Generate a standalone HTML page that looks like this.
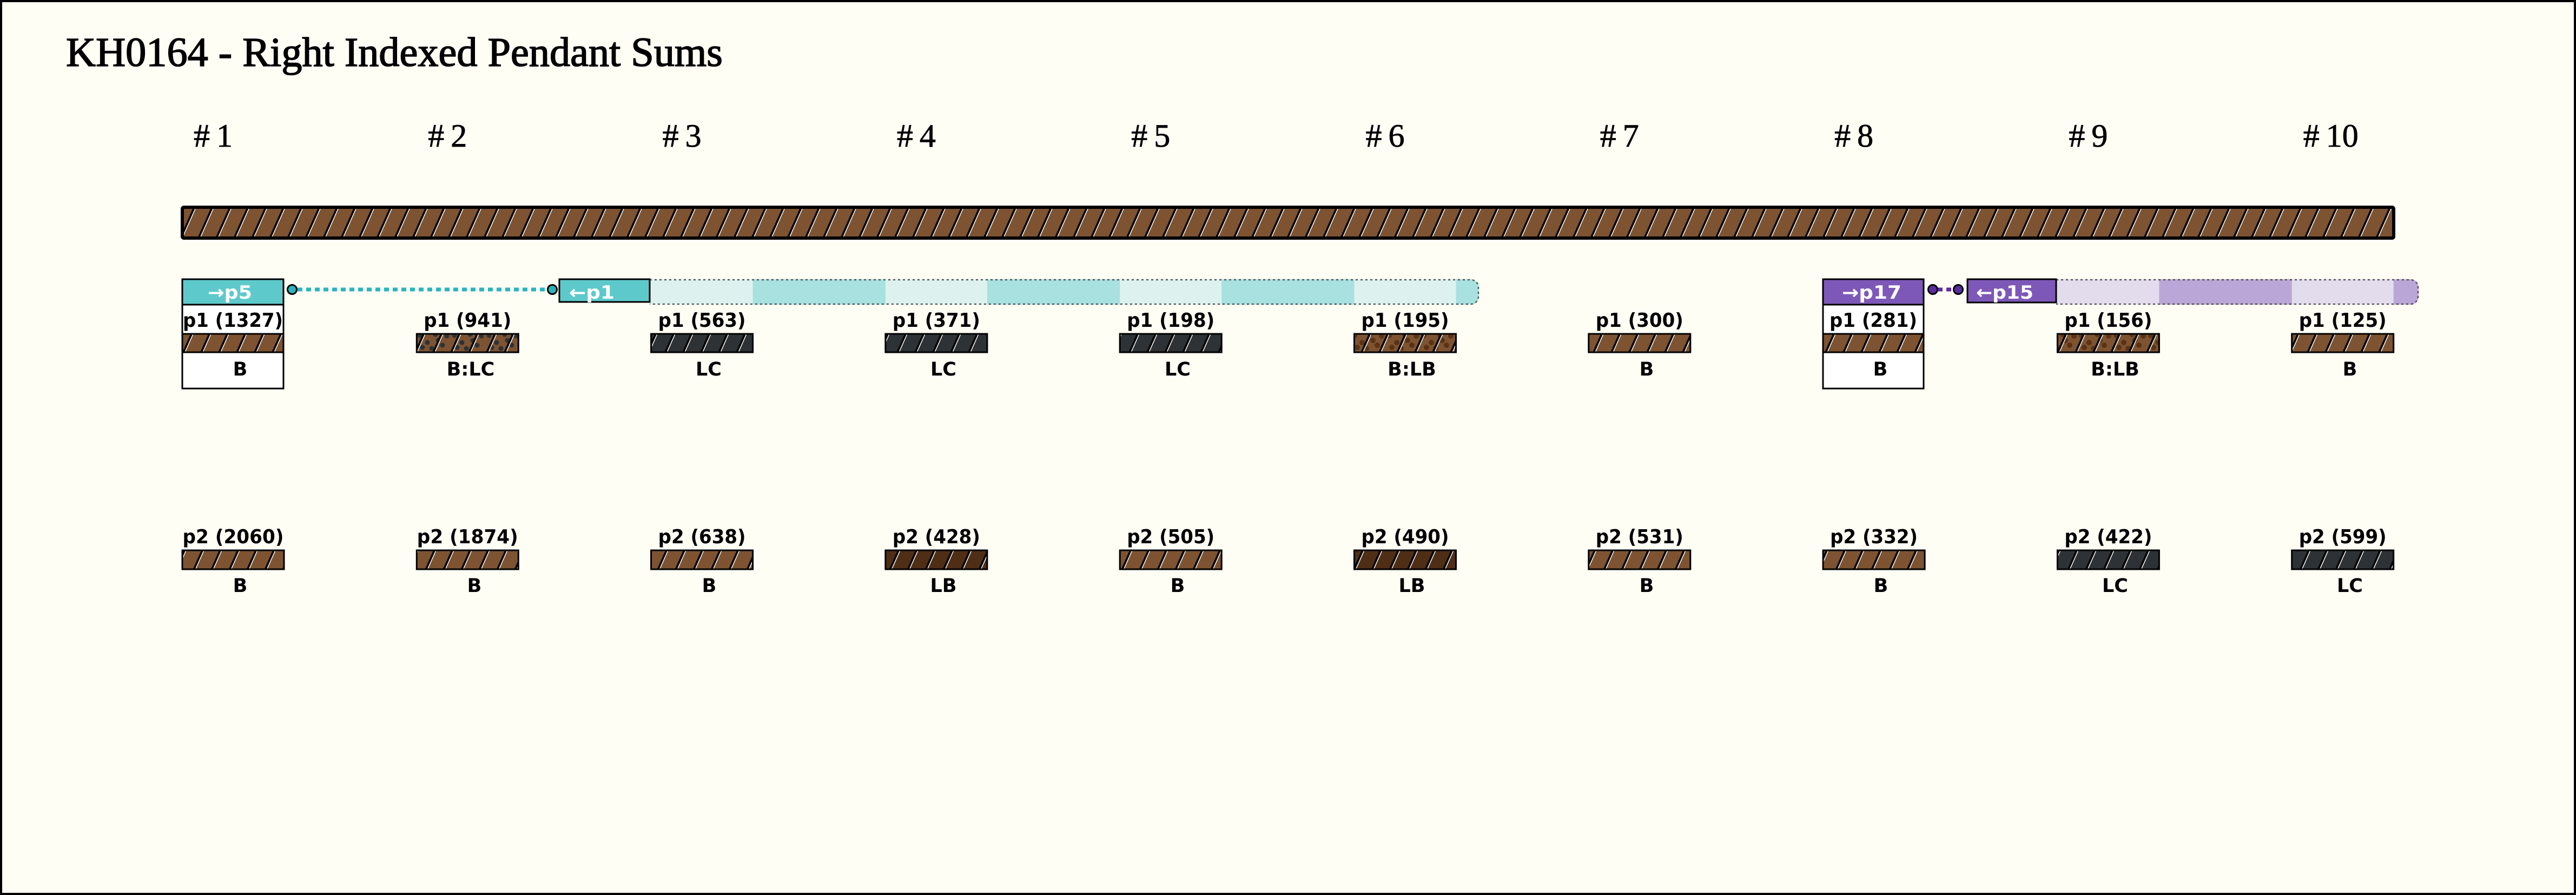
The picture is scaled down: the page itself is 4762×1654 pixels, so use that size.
<!DOCTYPE html>
<html>
<head>
<meta charset="utf-8">
<style>
  html,body{margin:0;padding:0;background:#FFFEF5;}
  svg{display:block;}
  .ttl{font-family:"Liberation Serif",serif;fill:#000;}
  .lab{font-family:"DejaVu Sans","Liberation Sans",sans-serif;font-weight:bold;fill:#000;font-size:36px;}
  .cat{font-family:"DejaVu Sans","Liberation Sans",sans-serif;font-weight:bold;fill:#000;font-size:35px;}
  .hdr{font-family:"DejaVu Sans","Liberation Sans",sans-serif;font-weight:bold;fill:#fff;font-size:34px;}
</style>
</head>
<body>
<svg width="4762" height="1654" viewBox="0 0 4762 1654" xmlns="http://www.w3.org/2000/svg">
<defs>
  <pattern id="st" patternUnits="userSpaceOnUse" width="33" height="40" patternTransform="skewX(-24)">
    <rect x="0" y="0" width="4" height="40" fill="#000"/>
    <rect x="4" y="0" width="1.6" height="40" fill="#fff"/>
  </pattern>
  <pattern id="dLC" patternUnits="userSpaceOnUse" width="64" height="36">
    <circle cx="8" cy="8" r="4.5" fill="#2C3236"/>
    <circle cx="22" cy="21" r="4.5" fill="#2C3236"/>
    <circle cx="37" cy="6" r="4.5" fill="#2C3236"/>
    <circle cx="50" cy="26" r="4.5" fill="#2C3236"/>
    <circle cx="13" cy="30" r="4.5" fill="#2C3236"/>
    <circle cx="42" cy="17" r="4.5" fill="#2C3236"/>
    <circle cx="58" cy="9" r="4.5" fill="#2C3236"/>
    <circle cx="30" cy="32" r="4.5" fill="#2C3236"/>
  </pattern>
  <pattern id="dLB" patternUnits="userSpaceOnUse" width="64" height="36">
    <circle cx="8" cy="8" r="5" fill="#5A3315"/>
    <circle cx="22" cy="21" r="5" fill="#5A3315"/>
    <circle cx="37" cy="6" r="5" fill="#5A3315"/>
    <circle cx="50" cy="26" r="5" fill="#5A3315"/>
    <circle cx="13" cy="30" r="5" fill="#5A3315"/>
    <circle cx="42" cy="17" r="5" fill="#5A3315"/>
    <circle cx="58" cy="9" r="5" fill="#5A3315"/>
    <circle cx="30" cy="32" r="5" fill="#5A3315"/>
  </pattern>
  <clipPath id="cband">
    <path d="M1201,516 H2719 A15,15 0 0 1 2734,531 V548 A15,15 0 0 1 2719,563 H1201 Z"/>
  </clipPath>
  <clipPath id="pband">
    <path d="M3801,516 H4456 A15,15 0 0 1 4471,531 V548 A15,15 0 0 1 4456,563 H3801 Z"/>
  </clipPath>
</defs>

<!-- background + frame -->
<rect x="2" y="2" width="4758" height="1650" fill="#FFFEF5" stroke="#000" stroke-width="4"/>

<!-- title -->
<text class="ttl" x="122" y="122" font-size="76" textLength="1214" lengthAdjust="spacingAndGlyphs" stroke="#000" stroke-width="1.6">KH0164 - Right Indexed Pendant Sums</text>

<!-- column labels -->
<g class="ttl" font-size="60" stroke="#000" stroke-width="0.8">
  <text x="358" y="271">#<tspan dx="12">1</tspan></text>
  <text x="791.3" y="271">#<tspan dx="12">2</tspan></text>
  <text x="1224.6" y="271">#<tspan dx="12">3</tspan></text>
  <text x="1657.9" y="271">#<tspan dx="12">4</tspan></text>
  <text x="2091.2" y="271">#<tspan dx="12">5</tspan></text>
  <text x="2524.5" y="271">#<tspan dx="12">6</tspan></text>
  <text x="2957.8" y="271">#<tspan dx="12">7</tspan></text>
  <text x="3391.1" y="271">#<tspan dx="12">8</tspan></text>
  <text x="3824.4" y="271">#<tspan dx="12">9</tspan></text>
  <text x="4257.7" y="271">#<tspan dx="12">10</tspan></text>
</g>

<!-- main cord -->
<rect x="337" y="383" width="4088" height="57" fill="#7D5331"/>
<rect x="337" y="383" width="4088" height="57" fill="url(#st)"/>
<rect x="337" y="383" width="4088" height="57" rx="3" fill="none" stroke="#000" stroke-width="6"/>

<!-- cyan band (cols 3-6) -->
<g clip-path="url(#cband)">
  <rect x="1201" y="516" width="1533" height="47" fill="#DDF2EE"/>
  <rect x="1391.6" y="516" width="245.3" height="47" fill="#A8E1DF"/>
  <rect x="1824.9" y="516" width="245.3" height="47" fill="#A8E1DF"/>
  <rect x="2258.2" y="516" width="245.3" height="47" fill="#A8E1DF"/>
  <rect x="2691.5" y="516" width="45" height="47" fill="#A8E1DF"/>
</g>
<path d="M1201,517 H2719 A14,14 0 0 1 2733,531 V548 A14,14 0 0 1 2719,562 H1201" fill="none" stroke="#333" stroke-opacity="0.8" stroke-width="2.5" stroke-dasharray="4 5"/>

<!-- purple band (cols 9-10) -->
<g clip-path="url(#pband)">
  <rect x="3801" y="516" width="670" height="47" fill="#E3DCEC"/>
  <rect x="3991.4" y="516" width="245.3" height="47" fill="#BBA7D7"/>
  <rect x="4424.7" y="516" width="48" height="47" fill="#BBA7D7"/>
</g>
<path d="M3801,517 H4456 A14,14 0 0 1 4470,531 V548 A14,14 0 0 1 4456,562 H3801" fill="none" stroke="#333" stroke-opacity="0.8" stroke-width="2.5" stroke-dasharray="4 5"/>

<!-- cyan link -->
<line x1="550" y1="535" x2="1010" y2="535" stroke="#2BB5BE" stroke-width="7" stroke-dasharray="9 7"/>
<circle cx="540" cy="535" r="8.5" fill="#2BB3BC" stroke="#000" stroke-width="3"/>
<circle cx="1021" cy="535" r="8.5" fill="#2BB3BC" stroke="#000" stroke-width="3"/>

<!-- purple link -->
<line x1="3582" y1="535" x2="3611" y2="535" stroke="#5C2BA0" stroke-width="7" stroke-dasharray="9 7"/>
<circle cx="3573" cy="535" r="8.5" fill="#5C2BA0" stroke="#000" stroke-width="3"/>
<circle cx="3620" cy="535" r="8.5" fill="#5C2BA0" stroke="#000" stroke-width="3"/>

<!-- col 1 box -->
<rect x="337" y="516" width="187" height="202" fill="#fff" stroke="#000" stroke-width="3"/>
<rect x="337" y="516" width="187" height="47" fill="#5EC9CA" stroke="#000" stroke-width="3"/>
<text class="hdr" x="425" y="552" text-anchor="middle" textLength="82" lengthAdjust="spacingAndGlyphs">→p5</text>

<!-- col 3 left box -->
<rect x="1034" y="516" width="167" height="42" fill="#5EC9CA" stroke="#000" stroke-width="3"/>
<text class="hdr" x="1052" y="552" textLength="84" lengthAdjust="spacingAndGlyphs">←p1</text>

<!-- col 8 box -->
<rect x="3370" y="516" width="186" height="202" fill="#fff" stroke="#000" stroke-width="3"/>
<rect x="3370" y="516" width="186" height="47" fill="#7E58B8" stroke="#000" stroke-width="3"/>
<text class="hdr" x="3460" y="552" text-anchor="middle" textLength="110" lengthAdjust="spacingAndGlyphs">→p17</text>

<!-- col 9 left box -->
<rect x="3637" y="516" width="164" height="43" fill="#7E58B8" stroke="#000" stroke-width="3"/>
<text class="hdr" x="3653" y="552" textLength="106" lengthAdjust="spacingAndGlyphs">←p15</text>

<!-- ===== p1 row ===== -->
<g>
  <rect x="337" y="617" width="187" height="34" fill="#7D5331"/>
  <rect x="337" y="617" width="187" height="34" fill="url(#st)"/>
  <rect x="337" y="617" width="187" height="34" fill="none" stroke="#000" stroke-width="3"/>

  <rect x="770.3" y="617" width="188" height="34" fill="#7D5331"/>
  <rect x="770.3" y="617" width="188" height="34" fill="url(#dLC)"/>
  <rect x="770.3" y="617" width="188" height="34" fill="url(#st)"/>
  <rect x="770.3" y="617" width="188" height="34" fill="none" stroke="#000" stroke-width="3"/>

  <rect x="1203.6" y="617" width="188" height="34" fill="#2C3236"/>
  <rect x="1203.6" y="617" width="188" height="34" fill="url(#st)"/>
  <rect x="1203.6" y="617" width="188" height="34" fill="none" stroke="#000" stroke-width="3"/>

  <rect x="1636.9" y="617" width="188" height="34" fill="#2C3236"/>
  <rect x="1636.9" y="617" width="188" height="34" fill="url(#st)"/>
  <rect x="1636.9" y="617" width="188" height="34" fill="none" stroke="#000" stroke-width="3"/>

  <rect x="2070.2" y="617" width="188" height="34" fill="#2C3236"/>
  <rect x="2070.2" y="617" width="188" height="34" fill="url(#st)"/>
  <rect x="2070.2" y="617" width="188" height="34" fill="none" stroke="#000" stroke-width="3"/>

  <rect x="2503.5" y="617" width="188" height="34" fill="#7D5331"/>
  <rect x="2503.5" y="617" width="188" height="34" fill="url(#dLB)"/>
  <rect x="2503.5" y="617" width="188" height="34" fill="url(#st)"/>
  <rect x="2503.5" y="617" width="188" height="34" fill="none" stroke="#000" stroke-width="3"/>

  <rect x="2936.8" y="617" width="188" height="34" fill="#7D5331"/>
  <rect x="2936.8" y="617" width="188" height="34" fill="url(#st)"/>
  <rect x="2936.8" y="617" width="188" height="34" fill="none" stroke="#000" stroke-width="3"/>

  <rect x="3370" y="617" width="186" height="34" fill="#7D5331"/>
  <rect x="3370" y="617" width="186" height="34" fill="url(#st)"/>
  <rect x="3370" y="617" width="186" height="34" fill="none" stroke="#000" stroke-width="3"/>

  <rect x="3803.4" y="617" width="188" height="34" fill="#7D5331"/>
  <rect x="3803.4" y="617" width="188" height="34" fill="url(#dLB)"/>
  <rect x="3803.4" y="617" width="188" height="34" fill="url(#st)"/>
  <rect x="3803.4" y="617" width="188" height="34" fill="none" stroke="#000" stroke-width="3"/>

  <rect x="4236.7" y="617" width="188" height="34" fill="#7D5331"/>
  <rect x="4236.7" y="617" width="188" height="34" fill="url(#st)"/>
  <rect x="4236.7" y="617" width="188" height="34" fill="none" stroke="#000" stroke-width="3"/>
</g>
<g class="lab" text-anchor="middle">
  <text x="430.5" y="604" textLength="185" lengthAdjust="spacingAndGlyphs">p1 (1327)</text>
  <text x="864.3" y="604" textLength="162" lengthAdjust="spacingAndGlyphs">p1 (941)</text>
  <text x="1297.6" y="604" textLength="162" lengthAdjust="spacingAndGlyphs">p1 (563)</text>
  <text x="1730.9" y="604" textLength="162" lengthAdjust="spacingAndGlyphs">p1 (371)</text>
  <text x="2164.2" y="604" textLength="162" lengthAdjust="spacingAndGlyphs">p1 (198)</text>
  <text x="2597.5" y="604" textLength="162" lengthAdjust="spacingAndGlyphs">p1 (195)</text>
  <text x="3030.8" y="604" textLength="162" lengthAdjust="spacingAndGlyphs">p1 (300)</text>
  <text x="3463" y="604" textLength="162" lengthAdjust="spacingAndGlyphs">p1 (281)</text>
  <text x="3897.4" y="604" textLength="162" lengthAdjust="spacingAndGlyphs">p1 (156)</text>
  <text x="4330.7" y="604" textLength="162" lengthAdjust="spacingAndGlyphs">p1 (125)</text>
</g>
<g class="cat" text-anchor="middle">
  <text x="444" y="694">B</text>
  <text x="870" y="694">B:LC</text>
  <text x="1310" y="694">LC</text>
  <text x="1744" y="694">LC</text>
  <text x="2177" y="694">LC</text>
  <text x="2610" y="694">B:LB</text>
  <text x="3044" y="694">B</text>
  <text x="3476" y="694">B</text>
  <text x="3910" y="694">B:LB</text>
  <text x="4344" y="694">B</text>
</g>

<!-- ===== p2 row ===== -->
<g>
  <rect x="337" y="1017" width="188" height="35" fill="#7D5331"/>
  <rect x="337" y="1017" width="188" height="35" fill="url(#st)"/>
  <rect x="337" y="1017" width="188" height="35" fill="none" stroke="#000" stroke-width="3"/>

  <rect x="770.3" y="1017" width="188" height="35" fill="#7D5331"/>
  <rect x="770.3" y="1017" width="188" height="35" fill="url(#st)"/>
  <rect x="770.3" y="1017" width="188" height="35" fill="none" stroke="#000" stroke-width="3"/>

  <rect x="1203.6" y="1017" width="188" height="35" fill="#7D5331"/>
  <rect x="1203.6" y="1017" width="188" height="35" fill="url(#st)"/>
  <rect x="1203.6" y="1017" width="188" height="35" fill="none" stroke="#000" stroke-width="3"/>

  <rect x="1636.9" y="1017" width="188" height="35" fill="#4F2E16"/>
  <rect x="1636.9" y="1017" width="188" height="35" fill="url(#st)"/>
  <rect x="1636.9" y="1017" width="188" height="35" fill="none" stroke="#000" stroke-width="3"/>

  <rect x="2070.2" y="1017" width="188" height="35" fill="#7D5331"/>
  <rect x="2070.2" y="1017" width="188" height="35" fill="url(#st)"/>
  <rect x="2070.2" y="1017" width="188" height="35" fill="none" stroke="#000" stroke-width="3"/>

  <rect x="2503.5" y="1017" width="188" height="35" fill="#4F2E16"/>
  <rect x="2503.5" y="1017" width="188" height="35" fill="url(#st)"/>
  <rect x="2503.5" y="1017" width="188" height="35" fill="none" stroke="#000" stroke-width="3"/>

  <rect x="2936.8" y="1017" width="188" height="35" fill="#7D5331"/>
  <rect x="2936.8" y="1017" width="188" height="35" fill="url(#st)"/>
  <rect x="2936.8" y="1017" width="188" height="35" fill="none" stroke="#000" stroke-width="3"/>

  <rect x="3370.1" y="1017" width="188" height="35" fill="#7D5331"/>
  <rect x="3370.1" y="1017" width="188" height="35" fill="url(#st)"/>
  <rect x="3370.1" y="1017" width="188" height="35" fill="none" stroke="#000" stroke-width="3"/>

  <rect x="3803.4" y="1017" width="188" height="35" fill="#2C3236"/>
  <rect x="3803.4" y="1017" width="188" height="35" fill="url(#st)"/>
  <rect x="3803.4" y="1017" width="188" height="35" fill="none" stroke="#000" stroke-width="3"/>

  <rect x="4236.7" y="1017" width="188" height="35" fill="#2C3236"/>
  <rect x="4236.7" y="1017" width="188" height="35" fill="url(#st)"/>
  <rect x="4236.7" y="1017" width="188" height="35" fill="none" stroke="#000" stroke-width="3"/>
</g>
<g class="lab" text-anchor="middle">
  <text x="431" y="1004" textLength="187" lengthAdjust="spacingAndGlyphs">p2 (2060)</text>
  <text x="864.3" y="1004" textLength="187" lengthAdjust="spacingAndGlyphs">p2 (1874)</text>
  <text x="1297.6" y="1004" textLength="162" lengthAdjust="spacingAndGlyphs">p2 (638)</text>
  <text x="1730.9" y="1004" textLength="162" lengthAdjust="spacingAndGlyphs">p2 (428)</text>
  <text x="2164.2" y="1004" textLength="162" lengthAdjust="spacingAndGlyphs">p2 (505)</text>
  <text x="2597.5" y="1004" textLength="162" lengthAdjust="spacingAndGlyphs">p2 (490)</text>
  <text x="3030.8" y="1004" textLength="162" lengthAdjust="spacingAndGlyphs">p2 (531)</text>
  <text x="3464.1" y="1004" textLength="162" lengthAdjust="spacingAndGlyphs">p2 (332)</text>
  <text x="3897.4" y="1004" textLength="162" lengthAdjust="spacingAndGlyphs">p2 (422)</text>
  <text x="4330.7" y="1004" textLength="162" lengthAdjust="spacingAndGlyphs">p2 (599)</text>
</g>
<g class="cat" text-anchor="middle">
  <text x="444" y="1094">B</text>
  <text x="877" y="1094">B</text>
  <text x="1311" y="1094">B</text>
  <text x="1744" y="1094">LB</text>
  <text x="2177" y="1094">B</text>
  <text x="2610" y="1094">LB</text>
  <text x="3044" y="1094">B</text>
  <text x="3477" y="1094">B</text>
  <text x="3910" y="1094">LC</text>
  <text x="4344" y="1094">LC</text>
</g>
</svg>
</body>
</html>
